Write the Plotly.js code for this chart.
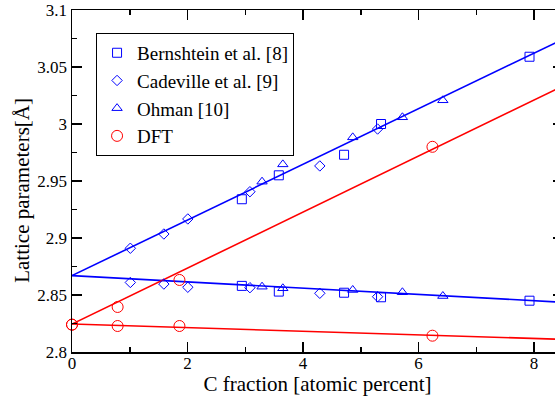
<!DOCTYPE html>
<html>
<head>
<meta charset="utf-8">
<script src="https://cdn.plot.ly/plotly-3.0.1.min.js"></script>
<style>
html,body{margin:0;padding:0;overflow:hidden;background:#fff;}
#chart{width:571px;height:396px;}
</style>
</head>
<body>
<div id="chart"></div>
<script>
// Bernshtein et al. [8]
const bernX = [2.94, 3.58, 4.71, 5.35, 7.92];
const bernUpper = [2.934, 2.955, 2.973, 3.000, 3.059];
const bernLower = [2.858, 2.853, 2.852, 2.848, 2.845];
// Cadeville et al. [9]
const cadX = [1.01, 1.59, 2.005, 3.08, 4.29, 5.29];
const cadUpper = [2.891, 2.9035, 2.9167, 2.9406, 2.9632, 2.9956];
const cadLower = [2.861, 2.8596, 2.8568, 2.8564, 2.8515, 2.8485];
// Ohman [10]
const ohmX = [3.29, 3.65, 4.86, 5.72, 6.42];
const ohmUpper = [2.9494, 2.9646, 2.9883, 3.0059, 3.0208];
const ohmLower = [2.8573, 2.8559, 2.8544, 2.8524, 2.8491];
// DFT
const dftUpperX = [0, 0.79, 1.86, 6.24];
const dftUpper = [2.824, 2.8395, 2.8632, 2.980];
const dftLowerX = [0, 0.79, 1.86, 6.24];
const dftLower = [2.824, 2.8228, 2.8228, 2.8143];
// Linear fits (endpoints)
const fitX = [0, 8.5];
const blueUpperFit = [2.867, 3.0744];
const blueLowerFit = [2.867, 2.8436];
const redUpperFit = [2.8245, 3.0333];
const redLowerFit = [2.8245, 2.8111];

const xTitle = 'C fraction [atomic percent]';
const yTitle = 'Lattice parameters[Å]';

const BLUE = '#0000ff', RED = '#ff0000';
const serif = 'Liberation Serif, serif';

function fitLine(y, color) {
  return {x: fitX, y: y, mode: 'lines', line: {color: color, width: 1.6},
          showlegend: false, hoverinfo: 'skip'};
}
function pts(x, y, symbol, size, color, name, show) {
  return {x: x, y: y, mode: 'markers', name: name, showlegend: show, legendgroup: name,
          marker: {symbol: symbol, size: size, color: color,
                   line: {color: color, width: 1}}, cliponaxis: false};
}

const traces = [
  fitLine(blueUpperFit, BLUE), fitLine(blueLowerFit, BLUE),
  fitLine(redUpperFit, RED), fitLine(redLowerFit, RED),
  pts(bernX, bernUpper, 'square-open', 9, BLUE, 'Bernshtein et al. [8]', true),
  pts(bernX, bernLower, 'square-open', 9, BLUE, 'Bernshtein et al. [8]', false),
  pts(cadX, cadUpper, 'diamond-open', 8, BLUE, 'Cadeville et al. [9]', true),
  pts(cadX, cadLower, 'diamond-open', 8, BLUE, 'Cadeville et al. [9]', false),
  pts(ohmX, ohmUpper, 'triangle-up-open', 9, BLUE, 'Ohman [10]', true),
  pts(ohmX, ohmLower, 'triangle-up-open', 9, BLUE, 'Ohman [10]', false),
  pts(dftUpperX, dftUpper, 'circle-open', 11, RED, 'DFT', true),
  pts(dftLowerX, dftLower, 'circle-open', 11, RED, 'DFT', false)
];

const axisCommon = {
  showline: true, linecolor: '#000', linewidth: 1.5, mirror: 'ticks',
  ticks: 'inside', ticklen: 10, tickwidth: 1.5, tickcolor: '#000',
  showgrid: false, zeroline: false,
  tickfont: {family: serif, size: 17, color: '#000'}
};

const layout = {
  width: 571, height: 396,
  margin: {l: 72, r: 8, t: 10, b: 44},
  paper_bgcolor: '#fff', plot_bgcolor: '#fff',
  font: {family: serif, color: '#000'},
  showlegend: true,
  legend: {x: 0.049, y: 0.933, xanchor: 'left', yanchor: 'top',
           bordercolor: '#000', borderwidth: 1, bgcolor: '#fff',
           font: {family: serif, size: 19, color: '#000'},
           itemwidth: 30, tracegroupgap: 0},
  xaxis: Object.assign({}, axisCommon, {
    range: [0, 8.5], dtick: 2, tick0: 0, ticklabelstandoff: -5,
    minor: {dtick: 1, ticks: 'inside', ticklen: 5, tickwidth: 1.5, tickcolor: '#000'},
    title: {text: xTitle, font: {family: serif, size: 21, color: '#000'}, standoff: 3}
  }),
  yaxis: Object.assign({}, axisCommon, {
    range: [2.8, 3.1], dtick: 0.05, tick0: 2.8,
    minor: {dtick: 0.025, ticks: 'inside', ticklen: 5, tickwidth: 1.5, tickcolor: '#000'}
  }),
  annotations: [{
    text: yTitle, xref: 'paper', yref: 'paper', x: -0.102, y: 0.474,
    xanchor: 'center', yanchor: 'middle', textangle: -90, showarrow: false,
    font: {family: serif, size: 21, color: '#000'}
  }]
};

Plotly.newPlot('chart', traces, layout, {displayModeBar: false, staticPlot: true});
</script>
</body>
</html>
